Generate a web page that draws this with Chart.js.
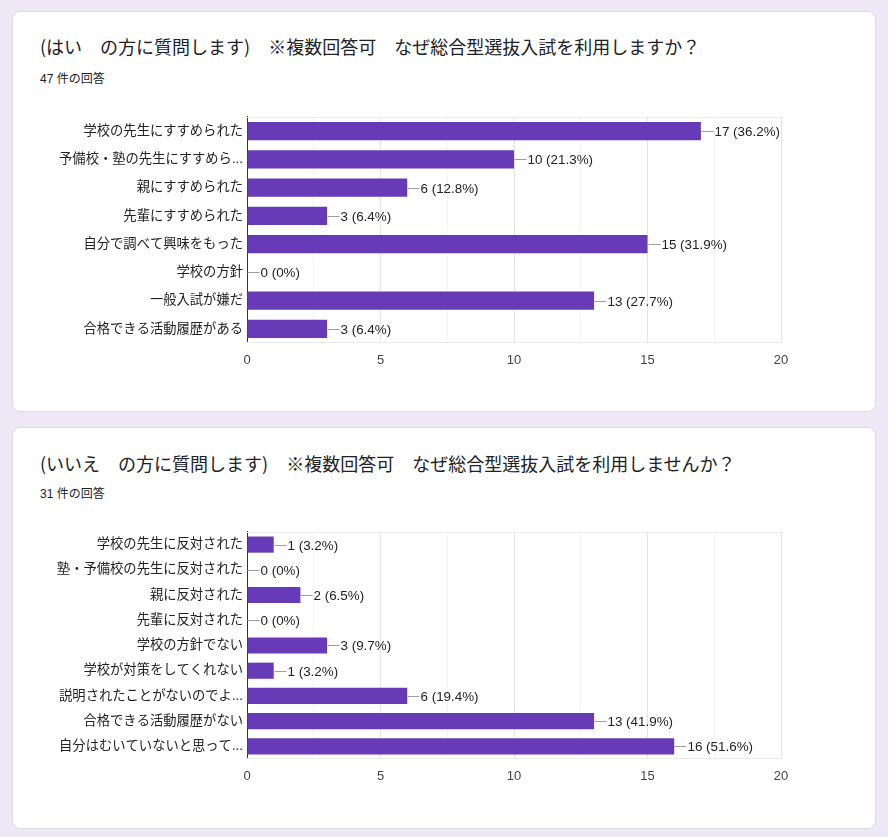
<!DOCTYPE html>
<html>
<head>
<meta charset="utf-8">
<script src="https://cdn.jsdelivr.net/npm/chart.js"></script>
<style>
  body { margin: 0; background: #ede7f6; width: 888px; height: 837px; position: relative; overflow: hidden;
    font-family: "Liberation Sans", "Noto Sans CJK JP", sans-serif; color: #202124; }
  .card { position: absolute; left: 12px; width: 864px; background: #fff; border: 1px solid #dadce0; border-radius: 8px; box-sizing: border-box; }
  .title { position: absolute; left: 40px; font-size: 18px; line-height: 24px; white-space: nowrap; font-family: "Noto Sans CJK JP", sans-serif; }
  .sub { position: absolute; left: 40px; font-size: 12px; line-height: 16px; white-space: nowrap; }
  .box { position: absolute; left: 40px; width: 810px; }
</style>
</head>
<body>
<div class="card" style="top:11px;height:401px"></div>
<div class="card" style="top:427px;height:402px"></div>

<div class="title" style="top:34px">(はい　の方に質問します)　※複数回答可　なぜ総合型選抜入試を利用しますか？</div>
<div class="sub" style="top:71px">47 件の回答</div>
<div class="box" style="top:105px;height:270px"><canvas id="chart-yes"></canvas></div>

<div class="title" style="top:451px">(いいえ　の方に質問します)　※複数回答可　なぜ総合型選抜入試を利用しませんか？</div>
<div class="sub" style="top:486px">31 件の回答</div>
<div class="box" style="top:520px;height:271px"><canvas id="chart-no"></canvas></div>

<script>
// question 1 (はい)
const yesLabels = [
  "学校の先生にすすめられた",
  "予備校・塾の先生にすすめら...",
  "親にすすめられた",
  "先輩にすすめられた",
  "自分で調べて興味をもった",
  "学校の方針",
  "一般入試が嫌だ",
  "合格できる活動履歴がある"
];
const yesCounts = [17, 10, 6, 3, 15, 0, 13, 3];
const yesTotal = 47;

// question 2 (いいえ)
const noLabels = [
  "学校の先生に反対された",
  "塾・予備校の先生に反対された",
  "親に反対された",
  "先輩に反対された",
  "学校の方針でない",
  "学校が対策をしてくれない",
  "説明されたことがないのでよ...",
  "合格できる活動履歴がない",
  "自分はむいていないと思って..."
];
const noCounts = [1, 0, 2, 0, 3, 1, 6, 13, 16];
const noTotal = 31;

const axisTicks = [0, 5, 10, 15, 20];

const FONT = "'Liberation Sans', 'Noto Sans CJK JP', sans-serif";

function pctText(v, total) {
  if (v === 0) return "0 (0%)";
  return v + " (" + (v / total * 100).toFixed(1) + "%)";
}

// leader line + "n (x%)" after each bar
const valueLabels = {
  id: "valueLabels",
  afterDatasetsDraw(chart) {
    const ctx = chart.ctx;
    const total = chart.options.plugins.valueLabels.total;
    const meta = chart.getDatasetMeta(0);
    ctx.save();
    ctx.font = "13.4px " + FONT;
    ctx.textBaseline = "middle";
    ctx.textAlign = "left";
    meta.data.forEach(function (bar, i) {
      const v = chart.data.datasets[0].data[i];
      const x = Math.round(bar.x) + 0.5;
      const y = Math.round(bar.y) + 0.5;
      ctx.strokeStyle = "#9e9e9e";
      ctx.lineWidth = 1;
      ctx.beginPath();
      ctx.moveTo(x, y);
      ctx.lineTo(x + 12, y);
      ctx.stroke();
      ctx.fillStyle = "#222";
      ctx.fillText(pctText(v, total), x + 13, y + 1);
    });
    ctx.restore();
  }
};

// light frame on top and bottom of the plot
const plotFrame = {
  id: "plotFrame",
  beforeDatasetsDraw(chart) {
    const a = chart.chartArea;
    const ctx = chart.ctx;
    ctx.save();
    ctx.strokeStyle = "#ebebeb";
    ctx.lineWidth = 1;
    ctx.beginPath();
    ctx.moveTo(a.left, Math.round(a.top) + 0.5);
    ctx.lineTo(a.right, Math.round(a.top) + 0.5);
    ctx.moveTo(a.left, Math.round(a.bottom) - 0.5);
    ctx.lineTo(a.right, Math.round(a.bottom) - 0.5);
    ctx.stroke();
    ctx.restore();
  }
};

function makeChart(id, labels, counts, total) {
  const canvas = document.getElementById(id);
  return new Chart(canvas.getContext("2d"), {
    type: "bar",
    data: {
      labels: labels,
      datasets: [{
        data: counts,
        backgroundColor: "#673ab7",
        borderWidth: 0,
        barPercentage: 0.64,
        categoryPercentage: 1
      }]
    },
    options: {
      indexAxis: "y",
      responsive: true,
      maintainAspectRatio: false,
      animation: false,
      layout: { padding: { top: 9, right: 69, bottom: 0, left: 0 } },
      plugins: {
        legend: { display: false },
        tooltip: { enabled: false },
        valueLabels: { total: total }
      },
      scales: {
        x: {
          min: 0,
          max: 20,
          afterFit(scale) { scale.height = 32; },
          afterBuildTicks(scale) {
            let t = [];
            for (let i = 0; i < axisTicks.length; i++) {
              t.push({ value: axisTicks[i] });
              if (i < axisTicks.length - 1) t.push({ value: (axisTicks[i] + axisTicks[i + 1]) / 2 });
            }
            scale.ticks = t;
          },
          ticks: {
            color: "#444",
            font: { size: 13, family: FONT },
            padding: 10,
            callback: function (v) { return axisTicks.includes(v) ? v : ""; }
          },
          grid: {
            drawTicks: false,
            color: function (c) { return axisTicks.includes(c.tick.value) ? "#e4e4e4" : "#f4f4f4"; }
          },
          border: { display: false }
        },
        y: {
          afterFit(scale) { scale.width = 207; },
          ticks: {
            color: "#222",
            font: { size: 13.3, family: FONT },
            padding: 4,
            autoSkip: false
          },
          grid: { display: false, drawTicks: false, tickLength: 0 },
          border: { display: true, color: "#333", width: 1 }
        }
      }
    },
    plugins: [plotFrame, valueLabels]
  });
}

makeChart("chart-yes", yesLabels, yesCounts, yesTotal);
makeChart("chart-no", noLabels, noCounts, noTotal);
</script>
</body>
</html>
